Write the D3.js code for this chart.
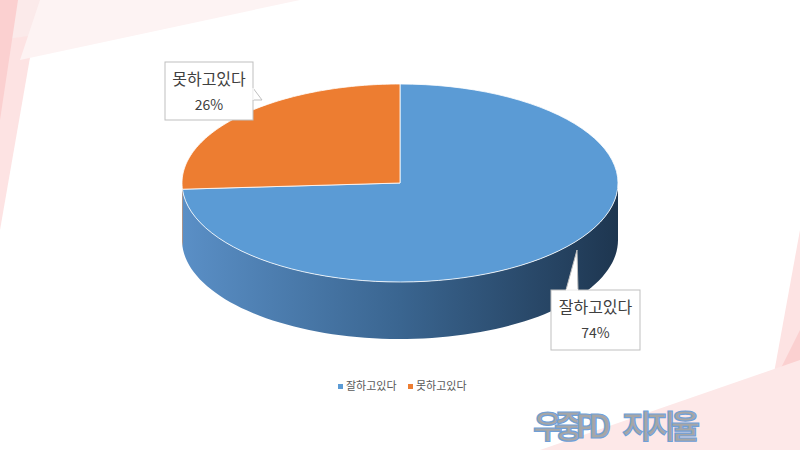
<!DOCTYPE html><html><head><meta charset="utf-8"><script src="https://cdn.jsdelivr.net/npm/d3@7"></script>
<style>body{margin:0}svg{display:block}</style></head><body><svg width="800" height="450"></svg>
<script>
const categories=["잘하고있다","못하고있다"];
const values=[74,26];
const colors=["#5b9bd5","#ed7d31"];
const svg=d3.select("svg");
const defs=svg.append("defs");
const bg=svg.append("g");
bg.append("rect").attr("width",800).attr("height",450).attr("fill","#fff");
[["0,0 40,0 0,230","#fde3e3"],["0,0 280,0 0,40","#fbeaea"],["0,0 18,0 0,120","#fbd0d0"],["40,0 300,0 20,60","#fdf3f3"],
 ["800,230 800,450 760,450","#fde3e3"],["780,370 800,330 800,450 770,450","#fbd0d0"],["540,450 800,360 800,450","#fde8e8"]]
 .forEach(([p,c])=>bg.append("polygon").attr("points",p).attr("fill",c));
const cx=400,cy=183,rx=218,ry=99,depth=57;
const pie=d3.pie().sort(null).startAngle(0).endAngle(2*Math.PI)(values);
const P=(a,dy=0)=>[cx+rx*Math.sin(a),cy-ry*Math.cos(a)+dy];
const g=svg.append("g");
const grad=defs.append("linearGradient").attr("id","side").attr("x1",0).attr("x2",1);
grad.append("stop").attr("offset","0").attr("stop-color","#5a8fc6");
grad.append("stop").attr("offset","0.5").attr("stop-color","#3a6590");
grad.append("stop").attr("offset","1").attr("stop-color","#1e3650");
const gradO=defs.append("linearGradient").attr("id","sideO").attr("x1",0).attr("x2",1);
gradO.append("stop").attr("offset","0").attr("stop-color","#d06a28");
gradO.append("stop").attr("offset","1").attr("stop-color","#b05a20");
function arcPts(a0,a1,dy){const n=80,pts=[];for(let i=0;i<=n;i++)pts.push(P(a0+(a1-a0)*i/n,dy));return pts;}
pie.forEach((d,i)=>{
  const s=Math.max(d.startAngle,Math.PI/2),e=Math.min(d.endAngle,3*Math.PI/2);
  if(e>s){const top=arcPts(s,e,0),bot=arcPts(e,s,depth);
    g.append("path").attr("d","M"+top.concat(bot).map(p=>p.join(",")).join("L")+"Z").attr("fill",i?"url(#sideO)":"url(#side)");}
});
pie.forEach((d,i)=>{
  const pts=[[cx,cy]].concat(arcPts(d.startAngle,d.endAngle,0));
  g.append("path").attr("d","M"+pts.map(p=>p.join(",")).join("L")+"Z").attr("fill",colors[i]).attr("stroke","#fff").attr("stroke-width",0.8);
});
const labels=[{box:[551,290,89,60],tip:[577,250],base:[[566,290],[578,290]]},{box:[165,62,88,58],tip:[262,100],base:[[253,88],[253,100]]}];
const cl=svg.append("g").attr("font-family","'Noto Sans CJK KR',sans-serif").attr("fill","#404040");
labels.forEach((l,i)=>{
  const [x,y,w,h]=l.box;
  cl.append("rect").attr("x",x).attr("y",y).attr("width",w).attr("height",h).attr("fill","#fff").attr("stroke","#bfbfbf");
  cl.append("polygon").attr("points",[l.base[0],l.tip,l.base[1]].map(p=>p.join(",")).join(" ")).attr("fill","#fff").attr("stroke","#bfbfbf");
  cl.append("line").attr("x1",l.base[0][0]).attr("y1",l.base[0][1]).attr("x2",l.base[1][0]).attr("y2",l.base[1][1]).attr("stroke","#fff").attr("stroke-width",1.5);
  cl.append("text").attr("x",x+w/2).attr("y",y+23).attr("text-anchor","middle").attr("font-size",16).text(categories[i]);
  cl.append("text").attr("x",x+w/2).attr("y",y+48).attr("text-anchor","middle").attr("font-size",14).text(values[i]+"%");
});
const lg=svg.append("g").attr("font-family","'Noto Sans CJK KR',sans-serif").attr("font-size",11).attr("fill","#595959");
const lx=[338,408];
categories.forEach((c,i)=>{
  lg.append("rect").attr("x",lx[i]).attr("y",384).attr("width",5).attr("height",5).attr("fill",colors[i]);
  lg.append("text").attr("x",lx[i]+8).attr("y",390).text(c);
});
const wm=svg.append("g").attr("font-family","'Noto Sans CJK KR',sans-serif").attr("font-weight","bold").attr("font-size",32)
 .attr("fill","#a6a6a6").attr("stroke","#6f9fd8").attr("stroke-width",1.2);
wm.append("text").attr("x",533).attr("y",438).attr("textLength",78).text("우중PD");
wm.append("text").attr("x",622).attr("y",438).attr("textLength",78).text("지지율");
</script></body></html>
